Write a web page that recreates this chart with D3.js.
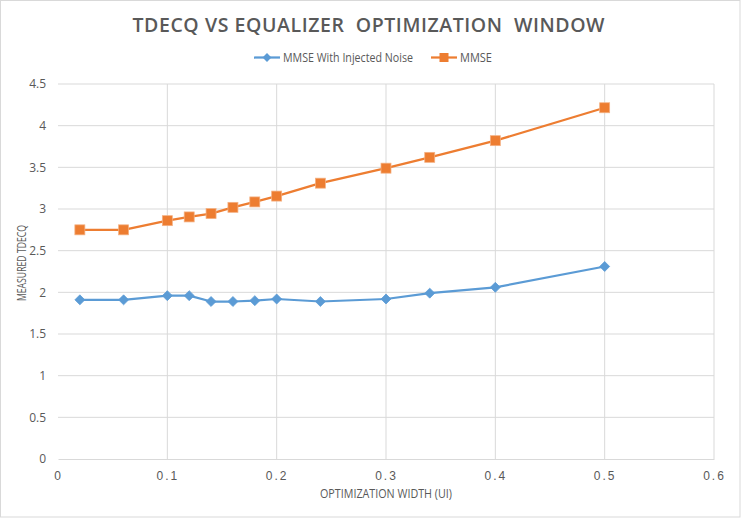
<!DOCTYPE html>
<html><head><meta charset="utf-8">
<script src="https://cdn.jsdelivr.net/npm/d3@7"></script>
<style>body{margin:0;background:#fff;} svg{display:block;}</style>
</head><body>
<script>
const xValues = [0.02, 0.06, 0.1, 0.12, 0.14, 0.16, 0.18, 0.2, 0.24, 0.3, 0.34, 0.4, 0.5];
const noiseValues = [1.91, 1.91, 1.96, 1.96, 1.89, 1.89, 1.90, 1.92, 1.89, 1.92, 1.99, 2.06, 2.31];
const mmseValues = [2.75, 2.75, 2.86, 2.905, 2.945, 3.02, 3.085, 3.155, 3.31, 3.49, 3.62, 3.82, 4.215];
const xTicks = [0, 0.1, 0.2, 0.3, 0.4, 0.5, 0.6];
const yTicks = [0, 0.5, 1, 1.5, 2, 2.5, 3, 3.5, 4, 4.5];
const seriesNames = ["MMSE With Injected Noise", "MMSE"];

const W = 741, H = 518;
const svg = d3.select("body").append("svg").attr("width", W).attr("height", H);
svg.append("rect").attr("x", 0.5).attr("y", 0.5).attr("width", W - 1.5).attr("height", H - 1.5)
  .attr("fill", "#fff").attr("stroke", "#d9d9d9");

const x = d3.scaleLinear().domain([0, 0.6]).range([58, 714]);
const y = d3.scaleLinear().domain([0, 4.5]).range([459, 84]);
const textCol = "#595959";

// gridlines
svg.append("g").selectAll("line.h").data(yTicks.slice(1)).join("line")
  .attr("x1", x(0)).attr("x2", x(0.6)).attr("y1", d => y(d)).attr("y2", d => y(d))
  .attr("stroke", "#d9d9d9").attr("stroke-width", 1);
svg.append("g").selectAll("line.v").data(xTicks.slice(1)).join("line")
  .attr("x1", d => x(d)).attr("x2", d => x(d)).attr("y1", y(0)).attr("y2", y(4.5))
  .attr("stroke", "#d9d9d9").attr("stroke-width", 1);

// axes
const xAxis = svg.append("g").attr("transform", `translate(0,${y(0)})`)
  .call(d3.axisBottom(x).tickValues(xTicks).tickSize(0).tickPadding(12).tickFormat(d => d === 0 ? "0" : d3.format(".1f")(d)));
xAxis.select(".domain").attr("stroke", "#d9d9d9");
xAxis.selectAll("text").attr("fill", textCol).attr("font-family", "Liberation Sans, sans-serif")
  .attr("font-size", 12).attr("letter-spacing", "2px");

const yAxis = svg.append("g").attr("transform", `translate(${x(0)},0)`)
  .call(d3.axisLeft(y).tickValues(yTicks).tickSize(0).tickPadding(12).tickFormat(d => String(d)));
yAxis.select(".domain").remove();
yAxis.selectAll("text").attr("fill", textCol).attr("font-family", "Open Sans, sans-serif").attr("font-size", 12);

// lines
const colors = ["#5b9bd5", "#ed7d31"];
const data = [noiseValues, mmseValues];
const line = d3.line().x((d, i) => x(xValues[i])).y(d => y(d));
data.forEach((vals, k) => {
  svg.append("path").datum(vals).attr("d", line).attr("fill", "none")
    .attr("stroke", colors[k]).attr("stroke-width", 2.25).attr("stroke-linejoin", "round");
});
// markers
svg.append("g").selectAll("path").data(noiseValues).join("path")
  .attr("d", d3.symbol(d3.symbolDiamond2, 64)())
  .attr("transform", (d, i) => `translate(${x(xValues[i])},${y(d)})`)
  .attr("fill", colors[0]).attr("stroke", colors[0]).attr("stroke-width", 0.75);
svg.append("g").selectAll("rect").data(mmseValues).join("rect")
  .attr("x", (d, i) => x(xValues[i]) - 5).attr("y", d => y(d) - 5)
  .attr("width", 10).attr("height", 10)
  .attr("fill", colors[1]).attr("stroke", "#f4b183").attr("stroke-width", 0.75);

// title
svg.append("text").attr("x", 369.5).attr("y", 32).attr("text-anchor", "middle")
  .attr("font-family", "Open Sans, sans-serif").attr("font-weight", 600).attr("font-size", 19.5)
  .attr("letter-spacing", "2px").attr("fill", textCol).style("white-space", "pre")
  .attr("textLength", 474).attr("lengthAdjust", "spacing")
  .text("TDECQ VS EQUALIZER  OPTIMIZATION  WINDOW");

// legend
const leg = [{x0: 254, tx: 283, tl: 130}, {x0: 431, tx: 460, tl: 32}];
leg.forEach((l, k) => {
  const g = svg.append("g");
  g.append("line").attr("x1", l.x0).attr("x2", l.x0 + 26).attr("y1", 57.5).attr("y2", 57.5)
    .attr("stroke", colors[k]).attr("stroke-width", 2.25);
  if (k === 0) {
    g.append("path").attr("d", d3.symbol(d3.symbolDiamond2, 50)())
      .attr("transform", `translate(${l.x0 + 13},57.5)`).attr("fill", colors[0]);
  } else {
    g.append("rect").attr("x", l.x0 + 8.5).attr("y", 53).attr("width", 9).attr("height", 9).attr("fill", colors[1]);
  }
  g.append("text").attr("x", l.tx).attr("y", 62).attr("font-family", "Open Sans, sans-serif")
    .attr("font-size", 13).attr("fill", textCol)
    .attr("textLength", l.tl).attr("lengthAdjust", "spacingAndGlyphs").text(seriesNames[k]);
});

// axis titles
svg.append("text").attr("x", 386).attr("y", 498).attr("text-anchor", "middle")
  .attr("font-family", "Open Sans, sans-serif").attr("font-size", 12.5)
  .attr("fill", textCol).attr("textLength", 132).attr("lengthAdjust", "spacingAndGlyphs")
  .text("OPTIMIZATION WIDTH (UI)");
svg.append("text").attr("transform", "translate(26,263) rotate(-90)").attr("text-anchor", "middle")
  .attr("font-family", "Open Sans, sans-serif").attr("font-size", 12.5)
  .attr("fill", textCol).attr("textLength", 76).attr("lengthAdjust", "spacingAndGlyphs")
  .text("MEASURED TDECQ");
</script>
</body></html>
